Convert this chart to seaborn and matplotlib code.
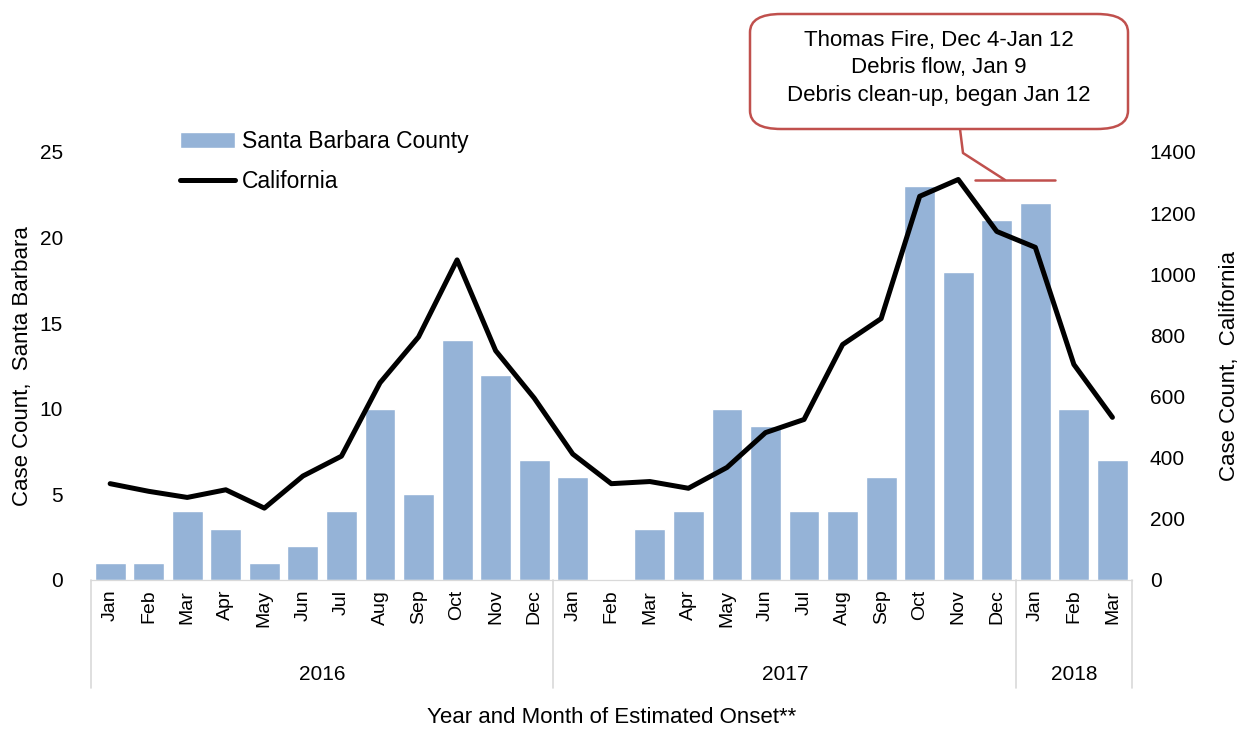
import pandas as pd
import numpy as np
import matplotlib.pyplot as plt
import seaborn as sns
from matplotlib.patches import FancyBboxPatch
from matplotlib.lines import Line2D

# data
months = ['Jan', 'Feb', 'Mar', 'Apr', 'May', 'Jun', 'Jul', 'Aug', 'Sep', 'Oct', 'Nov', 'Dec',
          'Jan', 'Feb', 'Mar', 'Apr', 'May', 'Jun', 'Jul', 'Aug', 'Sep', 'Oct', 'Nov', 'Dec',
          'Jan', 'Feb', 'Mar']
years = ['2016', '2017', '2018']
year_len = [12, 12, 3]
santa_barbara = [1, 1, 4, 3, 1, 2, 4, 10, 5, 14, 12, 7,
                 6, 0, 3, 4, 10, 9, 4, 4, 6, 23, 18, 21,
                 22, 10, 7]
california = [315, 290, 270, 295, 235, 340, 405, 645, 795, 1047, 750, 595,
              412, 315, 322, 300, 368, 482, 525, 770, 855, 1255, 1310, 1140,
              1088, 705, 532]

df = pd.DataFrame({'idx': np.arange(len(months)), 'month': months,
                   'sb': santa_barbara, 'ca': california})

sns.set_style('white')
plt.rcParams['font.family'] = ['Liberation Sans', 'DejaVu Sans']
plt.rcParams['text.color'] = 'black'
plt.rcParams['axes.labelcolor'] = 'black'
plt.rcParams['xtick.color'] = 'black'
plt.rcParams['ytick.color'] = 'black'

fig = plt.figure(figsize=(12.45, 7.31), dpi=100)
ax = fig.add_axes([0.073, 0.2066, 0.836, 0.5855])

sns.barplot(data=df, x='idx', y='sb', color='#95b3d7', saturation=1, width=0.8,
            ax=ax, label='Santa Barbara County')
ax.set_ylim(0, 25)
ax.set_xlim(-0.5, len(months) - 0.5)
ax.set_yticks([0, 5, 10, 15, 20, 25])
ax.tick_params(axis='y', labelsize=15, length=0, pad=20)
ax.set_xticks(df['idx'])
ax.set_xticklabels(months, rotation=90, fontsize=14)
ax.tick_params(axis='x', length=0, pad=7)
ax.set_ylabel('Case Count,  Santa Barbara', fontsize=16, labelpad=5)
ax.set_xlabel('Year and Month of Estimated Onset**', fontsize=16, labelpad=58)

ax2 = ax.twinx()
sns.lineplot(data=df, x='idx', y='ca', color='black', linewidth=3.6, ax=ax2,
             label='California', legend=False)
ax2.set_ylim(0, 1400)
ax2.set_yticks(range(0, 1401, 200))
ax2.tick_params(axis='y', labelsize=15, length=0, pad=13)
ax2.set_ylabel('Case Count,  California', fontsize=16, labelpad=16)
ax2.set_xlim(-0.5, len(months) - 0.5)

for a in (ax, ax2):
    for s in ['top', 'left', 'right']:
        a.spines[s].set_visible(False)
    a.spines['bottom'].set_color('#d9d9d9')

# year grouping lines and labels
trans = ax.get_xaxis_transform()
start = 0
bounds = [-0.5]
for y, n in zip(years, year_len):
    ax.text(start + (n - 1) / 2, -0.22, y, transform=trans, ha='center', va='center', fontsize=15)
    start += n
    bounds.append(start - 0.5)
for b in bounds:
    ax.plot([b, b], [0, -0.252], transform=trans, color='#d9d9d9', lw=1.2, clip_on=False)

# legend
h1, l1 = ax.get_legend_handles_labels()
h2, l2 = ax2.get_legend_handles_labels()
if ax.get_legend():
    ax.get_legend().remove()
fig.legend(h1 + h2, l1 + l2, loc='upper left', bbox_to_anchor=(0.128, 0.85),
           frameon=False, fontsize=16.5, handlelength=2.4, handletextpad=0.3, labelspacing=0.75)

# annotation callout
box = FancyBboxPatch((750 / 1245, 1 - 129 / 731), 378 / 1245, 115 / 731,
                     boxstyle='round,pad=0,rounding_size=0.025', transform=fig.transFigure,
                     facecolor='white', edgecolor='#c0504d', linewidth=1.8, zorder=5)
fig.patches.append(box)
fig.text(939 / 1245, 1 - 68 / 731,
         'Thomas Fire, Dec 4-Jan 12\nDebris flow, Jan 9\nDebris clean-up, began Jan 12',
         ha='center', va='center', fontsize=16, linespacing=1.4, zorder=6)
pts = [(960, 129), (963, 153), (1005, 180)]
fig.lines.append(Line2D([p[0] / 1245 for p in pts], [1 - p[1] / 731 for p in pts],
                        transform=fig.transFigure, color='#c0504d', lw=1.8))
fig.lines.append(Line2D([975 / 1245, 1055 / 1245], [1 - 180 / 731, 1 - 180 / 731],
                        transform=fig.transFigure, color='#c0504d', lw=1.8))

fig.savefig('out.png', dpi=100)
